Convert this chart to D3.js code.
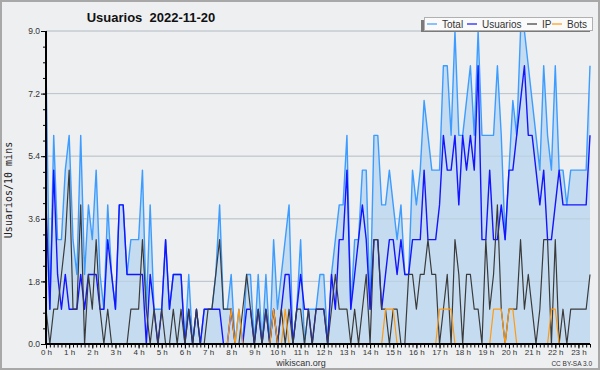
<!DOCTYPE html>
<html>
<head>
<meta charset="utf-8">
<script src="https://cdn.jsdelivr.net/npm/d3@7"></script>
<style>
  body { margin: 0; background: #fff; }
  text { font-family: "Liberation Sans", Arial, sans-serif; fill: #333; }
</style>
</head>
<body>
<script>
// one value every 10 minutes, from 00:00
const total = [
  8,1,6,3,3,5,6,3,2,6, 2,4,3,5,2,1,4,2,1,4, 4,2,3,3,3,5,1,4,1,1,
  1,3,1,2,2,2,0,2,0,1, 0,1,1,1,2,4,1,1,2,0, 1,0,2,2,0,2,0,2,0,3,
  1,2,3,4,0,1,3,0,1,1, 1,2,2,0,2,3,4,4,6,1, 3,3,5,5,1,6,6,4,4,5,
  4,3,4,2,2,5,4,5,7,6, 5,5,5,8,8,6,9,6,6,7, 8,6,9,6,6,6,6,8,6,3,
  5,7,6,9,9,8,7,6,5,8, 6,5,8,5,5,4,5,5,5,5, 5,8
];
const usuarios = [
  4,1,5,2,1,2,1,1,1,2, 1,2,2,2,1,1,3,2,1,4, 4,2,2,2,2,2,0,2,1,0,
  1,3,1,2,2,2,0,1,0,1, 0,1,1,1,1,1,0,0,1,0, 0,0,1,1,0,1,0,1,0,1,
  0,1,2,2,0,1,2,1,1,0, 1,1,1,0,2,1,3,3,5,1, 2,3,4,3,1,3,3,1,2,3,
  3,2,3,2,2,3,3,3,5,3, 3,3,4,6,5,5,6,4,6,5, 6,5,8,3,3,5,3,3,4,3,
  5,5,6,7,8,6,6,5,4,5, 3,3,4,5,4,4,4,4,4,4, 4,6
];
const ip = [
  1,0,1,1,2,3,5,1,1,4, 0,2,1,3,1,0,1,0,0,0, 0,0,1,1,1,3,1,0,1,0,
  1,0,0,1,0,1,0,1,0,1, 0,0,1,1,2,3,1,1,1,0, 0,1,2,1,0,1,0,1,0,1,
  0,1,0,1,0,1,1,0,1,0, 1,1,1,0,1,2,1,1,1,0, 1,0,1,2,0,3,3,1,1,0,
  1,1,0,0,2,2,1,2,2,3, 2,2,0,1,2,0,3,2,0,2, 2,1,1,0,3,1,2,4,1,0,
  1,1,1,3,1,2,1,0,1,3, 3,0,3,0,1,0,1,1,1,1, 1,2
];
const bots = [
  0,0,0,0,0,0,0,0,0,0, 0,0,0,0,0,0,0,0,0,0, 0,0,0,0,0,0,0,0,0,0,
  0,0,0,0,0,0,0,0,0,0, 0,0,0,0,0,0,0,0,1,0, 1,0,0,0,0,0,0,0,0,1,
  0,0,1,0,0,0,0,0,0,0, 0,0,0,0,0,0,0,0,0,0, 0,0,0,0,0,0,0,0,1,1,
  1,0,0,0,0,0,0,0,0,0, 0,0,1,1,1,1,0,0,0,0, 0,0,0,0,0,0,1,1,1,0,
  1,1,0,0,0,0,0,0,0,0, 0,1,1,0,0,0,0,0,0,0, 0,0
];
const hours = ['0 h','1 h','2 h','3 h','4 h','5 h','6 h','7 h','8 h','9 h','10 h','11 h',
  '12 h','13 h','14 h','15 h','16 h','17 h','18 h','19 h','20 h','21 h','22 h','23 h'];
const yTicks = [0, 1.8, 3.6, 5.4, 7.2, 9.0];
const legendNames = ['Total', 'Usuarios', 'IP', 'Bots'];
const legendColors = ['#3d9cff', '#1414ff', '#3a3a3a', '#ff9a10'];

const width = 600;
const height = 370;
const margin = {top: 31, right: 10, bottom: 26, left: 46};

const svg = d3.select('body')
  .append('svg')
    .attr('width', width)
    .attr('height', height);

svg.append('rect')
    .attr('x', 1).attr('y', 1)
    .attr('width', width - 2).attr('height', height - 2)
    .attr('fill', '#eeeff1')
    .attr('stroke', '#a8a8a8')
    .attr('stroke-width', 2);

const x = d3.scaleLinear()
  .domain([0, total.length - 1])
  .range([margin.left, width - margin.right]);
const y = d3.scaleLinear()
  .domain([0, 9])
  .range([height - margin.bottom, margin.top]);

// grid
svg.append('g')
  .selectAll('line')
  .data(yTicks.filter(d => d > 0))
  .enter().append('line')
    .attr('x1', x(0)).attr('x2', x(total.length - 1))
    .attr('y1', d => y(d)).attr('y2', d => y(d))
    .attr('stroke', '#c9c9c9');

const area = d3.area()
  .x((d, i) => x(i))
  .y0(y(0))
  .y1(d => y(d));

const line = d3.line()
  .x((d, i) => x(i))
  .y(d => y(d));

svg.append('path')
    .attr('d', area(total))
    .attr('fill', '#c5dcf0');

// grid again on top of the fill, faint
svg.append('g')
  .selectAll('line')
  .data(yTicks.filter(d => d > 0))
  .enter().append('line')
    .attr('x1', x(0)).attr('x2', x(total.length - 1))
    .attr('y1', d => y(d)).attr('y2', d => y(d))
    .attr('stroke', '#b4c4d2')
    .attr('stroke-opacity', 0.6);

[total, usuarios, ip, bots].forEach((s, k) => {
  svg.append('path')
      .attr('d', line(s))
      .attr('fill', 'none')
      .attr('stroke', legendColors[k])
      .attr('stroke-width', k < 2 ? 1.4 : 1.2)
      .attr('stroke-linejoin', 'round');
});

// y axis
const yAxis = d3.axisLeft(y)
  .tickValues(yTicks)
  .tickFormat(d3.format('.1f'))
  .tickSize(5);
svg.append('g')
    .attr('transform', `translate(${margin.left},0)`)
    .call(yAxis)
    .call(g => g.select('.domain').remove())
    .call(g => g.selectAll('text')
      .attr('font-size', 8.5)
      .attr('font-family', 'Liberation Sans, Arial, sans-serif')
      .attr('fill', '#333')
      .attr('x', -6));
svg.append('g')
    .attr('transform', `translate(${margin.left},0)`)
    .call(d3.axisLeft(y).tickValues(d3.range(0, 9.01, 0.45)).tickFormat('').tickSize(3))
    .call(g => g.select('.domain').remove());
svg.append('line')
    .attr('x1', margin.left).attr('x2', margin.left)
    .attr('y1', y(9)).attr('y2', y(0) + 1)
    .attr('stroke', '#000').attr('stroke-width', 2);

// x axis: hour ticks every 6 slots, small ticks every slot
const hourScale = d3.scalePoint()
  .domain(hours)
  .range([x(0), x(6 * (hours.length - 1))]);
svg.append('g')
    .attr('transform', `translate(0,${y(0)})`)
    .call(d3.axisBottom(x).tickValues(d3.range(0, total.length)).tickFormat('').tickSize(3.5))
    .call(g => g.select('.domain').remove());
svg.append('g')
    .attr('transform', `translate(0,${y(0)})`)
    .call(d3.axisBottom(hourScale).tickSize(4.5))
    .call(g => g.select('.domain').remove())
    .call(g => g.selectAll('text')
      .attr('y', 5)
      .attr('font-size', 8)
      .attr('font-family', 'Liberation Sans, Arial, sans-serif')
      .attr('fill', '#333'));
svg.append('line')
    .attr('x1', margin.left - 1).attr('x2', x(total.length - 1))
    .attr('y1', y(0)).attr('y2', y(0))
    .attr('stroke', '#000').attr('stroke-width', 2);

// titles
svg.append('text')
    .attr('x', 151).attr('y', 22)
    .attr('text-anchor', 'middle')
    .attr('font-size', 13)
    .attr('font-weight', 'bold')
    .style('white-space', 'pre')
    .style('fill', '#111')
    .text('Usuarios  2022-11-20');

svg.append('text')
    .attr('transform', 'translate(12,190) rotate(-90)')
    .attr('text-anchor', 'middle')
    .style('font-family', '"DejaVu Sans Mono", monospace')
    .attr('font-size', 10)
    .style('fill', '#222')
    .text('Usuarios/10 mins');

svg.append('text')
    .attr('x', 301).attr('y', 366)
    .attr('text-anchor', 'middle')
    .attr('font-size', 9)
    .text('wikiscan.org');

svg.append('text')
    .attr('x', 592).attr('y', 366)
    .attr('text-anchor', 'end')
    .attr('font-size', 6.5)
    .text('CC BY-SA 3.0');

// legend
const legend = svg.append('g');
legend.append('rect')
    .attr('x', 421).attr('y', 20)
    .attr('width', 169).attr('height', 12)
    .attr('fill', '#7a7a7a');
legend.append('rect')
    .attr('x', 424.5).attr('y', 17.5)
    .attr('width', 168).attr('height', 13)
    .attr('fill', '#fafafa')
    .attr('stroke', '#b0b0b0');

const legendX = [427, 467, 527, 552];
const item = legend.selectAll('g.item')
  .data(legendNames)
  .enter().append('g')
    .attr('class', 'item')
    .attr('transform', (d, i) => `translate(${legendX[i]},24)`);
item.append('line')
    .attr('x1', 0).attr('x2', 10)
    .attr('stroke', (d, i) => legendColors[i])
    .attr('stroke-width', 1.2);
item.append('text')
    .attr('x', 15).attr('dy', '0.35em')
    .attr('font-size', 10)
    .text(d => d);
</script>
</body>
</html>
